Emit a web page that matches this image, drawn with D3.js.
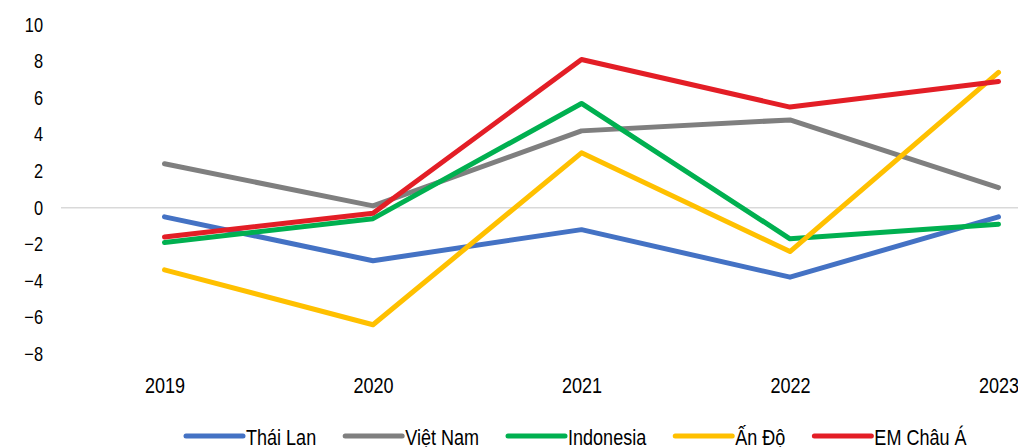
<!DOCTYPE html>
<html>
<head>
<meta charset="utf-8">
<script src="https://cdn.jsdelivr.net/npm/d3@7"></script>
<style>
  html, body { margin: 0; padding: 0; background: #fff; }
  svg { display: block; }
  text { font-family: "Liberation Sans", Arial, sans-serif; fill: #000; }
</style>
</head>
<body>
<svg id="chart" width="1018" height="447"></svg>
<script>
// Yearly values per economy (%)
const years = ["2019", "2020", "2021", "2022", "2023"];
const yTicks = [-8, -6, -4, -2, 0, 2, 4, 6, 8, 10];

const thaiLan  = [-0.5, -2.9, -1.2, -3.8, -0.5];
const vietNam  = [2.4, 0.1, 4.2, 4.8, 1.1];
const indonesia = [-1.9, -0.6, 5.7, -1.7, -0.9];
const anDo     = [-3.4, -6.4, 3.0, -2.4, 7.4];
const emChauA  = [-1.6, -0.3, 8.1, 5.5, 6.9];

const seriesNames = ["Thái Lan", "Việt Nam", "Indonesia", "Ấn Độ", "EM Châu Á"];
const seriesValues = [thaiLan, vietNam, indonesia, anDo, emChauA];
const seriesColors = ["#4472C4", "#7F7F7F", "#00B050", "#FFC000", "#E31E26"];

// horizontal squeeze that gives the narrow type look
const narrow = 0.82;

const svg = d3.select("#chart");

const x = d3.scalePoint().domain(years).range([164.5, 998.5]);
const y = d3.scaleLinear().domain([-8, 10]).range([354, 24.8]);

// zero reference line
svg.append("line")
  .attr("x1", 61).attr("x2", 1018)
  .attr("y1", y(0)).attr("y2", y(0))
  .attr("stroke", "#d9d9d9").attr("stroke-width", 1.5);

// y axis labels
const yAxis = svg.append("g")
  .attr("transform", "translate(43,0)")
  .call(d3.axisLeft(y).tickValues(yTicks).tickSize(0).tickPadding(0).tickFormat(d3.format("d")));
yAxis.select(".domain").remove();
yAxis.selectAll("text")
  .style("font-size", "20px")
  .attr("fill", "#000")
  .attr("transform", `scale(${narrow},1)`);

// x axis labels
const xAxis = svg.append("g")
  .attr("transform", "translate(0,377)")
  .call(d3.axisBottom(x).tickSize(0).tickPadding(0));
xAxis.select(".domain").remove();
xAxis.selectAll("text")
  .style("font-size", "22px")
  .attr("fill", "#000")
  .attr("transform", `scale(${narrow},1)`);

// series lines
const line = d3.line()
  .x((d, i) => x(years[i]))
  .y(d => y(d));

seriesValues.forEach((vals, i) => {
  svg.append("path")
    .datum(vals)
    .attr("d", line)
    .attr("fill", "none")
    .attr("stroke", seriesColors[i])
    .attr("stroke-width", 5)
    .attr("stroke-linecap", "round")
    .attr("stroke-linejoin", "round");
});

// legend
const legend = svg.append("g");
let lx = 186;
const ly = 436;
seriesNames.forEach((name, i) => {
  legend.append("line")
    .attr("x1", lx).attr("x2", lx + 57)
    .attr("y1", ly).attr("y2", ly)
    .attr("stroke", seriesColors[i])
    .attr("stroke-width", 5)
    .attr("stroke-linecap", "round");
  const t = legend.append("text")
    .attr("transform", `translate(${lx + 60},444.5) scale(${narrow},1)`)
    .style("font-size", "22px")
    .text(name);
  lx += 60 + t.node().getComputedTextLength() * narrow + 29;
});
</script>
</body>
</html>
